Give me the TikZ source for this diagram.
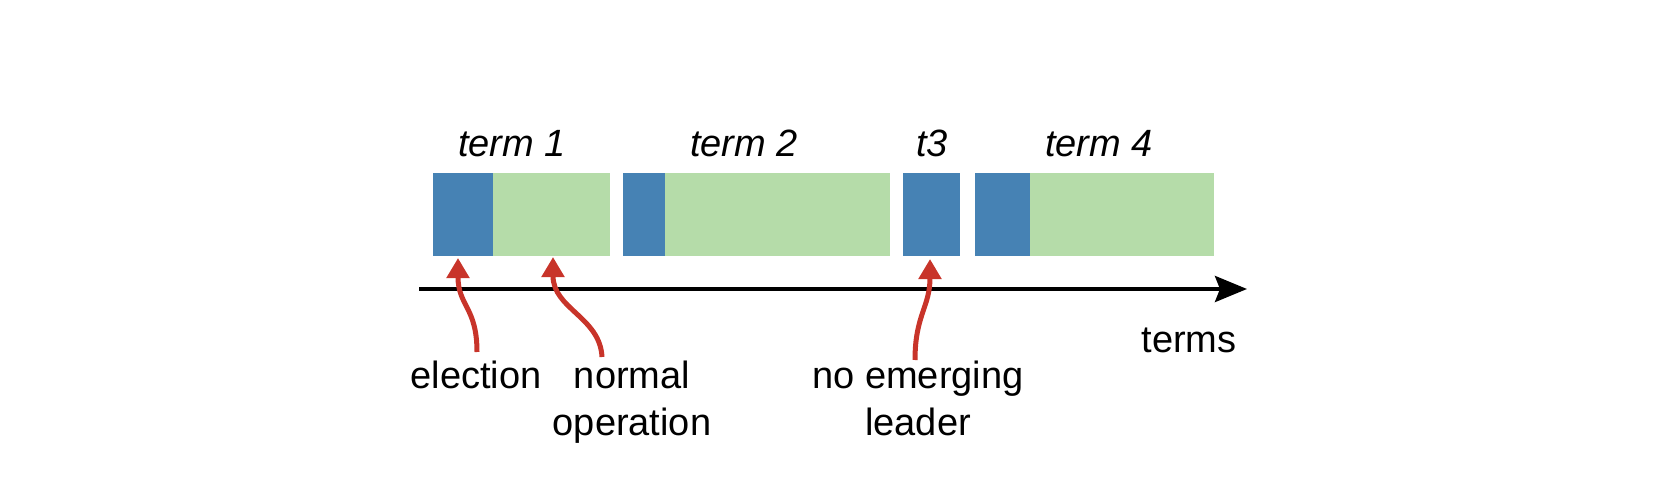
\documentclass[tikz,border=0pt]{standalone}
\usepackage{fontspec}
\setmainfont{Liberation Sans}
\usetikzlibrary{arrows.meta}
\definecolor{elecblue}{RGB}{70,130,180}
\definecolor{normgreen}{RGB}{181,220,169}
\definecolor{arrred}{RGB}{200,52,42}
\tikzset{
  seg/.style={inner sep=0pt, outer sep=0pt, minimum height=83pt, anchor=north west, draw=none},
  bluebox/.style={seg, fill=elecblue},
  greenbox/.style={seg, fill=normgreen},
  lbl/.style={inner sep=0pt, anchor=base, align=center, font=\fontsize{38}{47}\selectfont},
  termlbl/.style={lbl, font=\fontsize{38}{47}\selectfont\itshape},
  redarrow/.style={draw=arrred, line width=5pt, -{Triangle[width=22pt,length=20pt]}},
  axis/.style={draw=black, line width=4pt, -{Stealth[width=26pt,length=32pt,inset=5pt]}}
}
\begin{document}
\begin{tikzpicture}[x=1pt,y=-1pt]
\useasboundingbox (0,0) rectangle (1660,500);
% term 1
\node[bluebox, minimum width=60pt] (b1) at (433,173) {};
\node[greenbox, minimum width=117pt] (g1) at (493,173) {};
% term 2
\node[bluebox, minimum width=42pt] (b2) at (623,173) {};
\node[greenbox, minimum width=225pt] (g2) at (665,173) {};
% t3
\node[bluebox, minimum width=57pt] (b3) at (903,173) {};
% term 4
\node[bluebox, minimum width=55pt] (b4) at (975,173) {};
\node[greenbox, minimum width=184pt] (g4) at (1030,173) {};
% term labels
\node[termlbl] (t1) at (512,157) {term 1};
\node[termlbl] (t2) at (744,157) {term 2};
\node[termlbl] (t3) at (932,157) {t3};
\node[termlbl] (t4) at (1099,157) {term 4};
% axis
\coordinate (axstart) at (419,289);
\coordinate (axend) at (1247,289);
\draw[axis] (axstart) -- (axend);
\node[lbl] (terms) at (1189,352) {terms};
% bottom labels
\node[lbl] (elec) at (476,388) {election};
\node[lbl] (norm) at (632,435) {normal\\operation};
\node[lbl] (noem) at (918,435) {no emerging\\leader};
% arrows
\coordinate (elecTail) at (477,352);
\coordinate (elecTip) at (458,258);
\coordinate (normTail) at (602,357);
\coordinate (normTip) at (553,257);
\coordinate (noemTail) at (915,360);
\coordinate (noemTip) at (930,259);
\draw[redarrow] (elecTail) .. controls +(0,-45) and +(0,48) .. (elecTip);
\draw[redarrow] (normTail) .. controls +(-2,-40) and +(0,52) .. (normTip);
\draw[redarrow] (noemTail) .. controls +(0,-45) and +(0,48) .. (noemTip);
\end{tikzpicture}
\end{document}
